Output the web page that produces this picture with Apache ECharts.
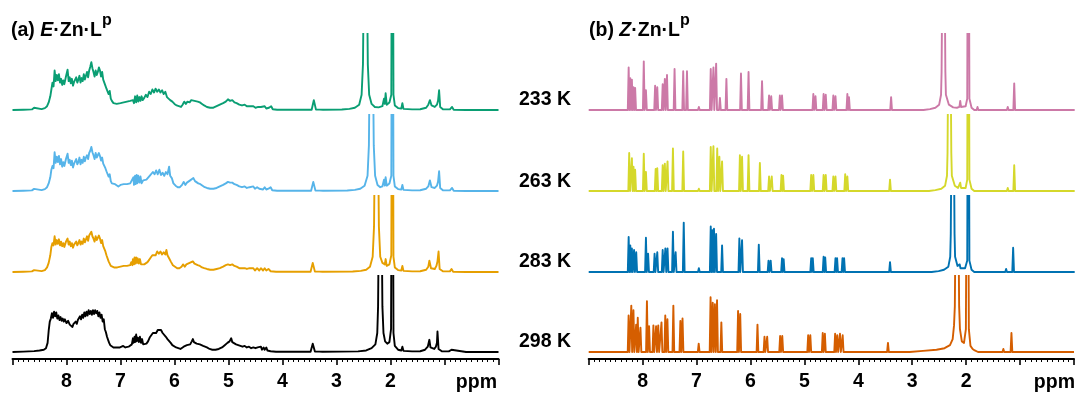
<!DOCTYPE html>
<html>
<head>
<meta charset="utf-8">
<title>VT 1H NMR of E- and Z-Zn·Lp</title>
<script src="https://cdn.jsdelivr.net/npm/echarts@6/dist/echarts.min.js"></script>
<style>
  html, body { margin: 0; padding: 0; background: #ffffff; }
  #chart { width: 1077px; height: 394px; }
</style>
</head>
<body>
<div id="chart"></div>
<script>
// ---------------------------------------------------------------------------
// Spectral data (chemical shift in ppm, relative intensity; 1 = clip height)
// ---------------------------------------------------------------------------
const temperatures = ['233 K', '263 K', '283 K', '298 K'];
const tickLabels = ['8', '7', '6', '5', '4', '3', '2'];

// (a) E·Zn·Lp, traced spectra [ppm, intensity]
const eSpec233 = [
  [9.00,0],[8.80,0.004],[8.64,0.008],[8.60,0.030],[8.57,0.008],[8.46,0.012],[8.40,0.025],[8.36,0.05],[8.33,0.10],[8.30,0.18],[8.28,0.27],[8.26,0.36],[8.24,0.31],[8.22,0.52],[8.20,0.38],[8.18,0.46],[8.16,0.39],[8.14,0.47],[8.12,0.36],[8.10,0.41],[8.08,0.33],[8.06,0.39],[8.04,0.34],[8.01,0.44],[7.98,0.53],[7.96,0.38],[7.94,0.43],[7.92,0.35],[7.90,0.41],[7.88,0.32],[7.86,0.37],[7.84,0.35],[7.82,0.43],[7.80,0.36],[7.78,0.40],[7.76,0.45],[7.74,0.36],[7.72,0.42],[7.70,0.38],[7.68,0.47],[7.66,0.40],[7.64,0.45],[7.62,0.50],[7.60,0.43],[7.58,0.52],[7.56,0.57],[7.54,0.63],[7.52,0.55],[7.50,0.50],[7.48,0.44],[7.46,0.52],[7.44,0.46],[7.42,0.50],[7.40,0.56],[7.38,0.52],[7.36,0.44],[7.34,0.50],[7.32,0.40],[7.30,0.42],[7.28,0.32],[7.26,0.28],[7.24,0.30],[7.22,0.21],[7.20,0.25],[7.18,0.15],[7.16,0.12],[7.13,0.09],[7.10,0.11],[7.07,0.08],[7.04,0.07],[7.00,0.09],[6.97,0.07],[6.94,0.10],[6.91,0.08],[6.88,0.11],[6.85,0.09],[6.82,0.12],[6.80,0.10],[6.77,0.13],[6.75,0.09],[6.73,0.18],[6.71,0.10],[6.69,0.19],[6.67,0.11],[6.65,0.17],[6.63,0.12],[6.61,0.18],[6.59,0.13],[6.56,0.16],[6.53,0.20],[6.50,0.17],[6.47,0.24],[6.44,0.21],[6.41,0.27],[6.38,0.23],[6.35,0.28],[6.32,0.24],[6.29,0.27],[6.26,0.23],[6.23,0.26],[6.20,0.21],[6.17,0.24],[6.14,0.17],[6.11,0.19],[6.08,0.13],[6.04,0.11],[6.00,0.08],[5.96,0.06],[5.92,0.05],[5.88,0.04],[5.85,0.07],[5.82,0.11],[5.79,0.08],[5.76,0.11],[5.72,0.10],[5.69,0.13],[5.66,0.15],[5.63,0.12],[5.60,0.14],[5.57,0.11],[5.53,0.10],[5.49,0.08],[5.45,0.06],[5.40,0.04],[5.34,0.03],[5.28,0.03],[5.22,0.05],[5.16,0.07],[5.10,0.09],[5.05,0.11],[5.01,0.14],[4.97,0.12],[4.93,0.13],[4.89,0.10],[4.85,0.09],[4.80,0.07],[4.75,0.06],[4.70,0.07],[4.66,0.05],[4.61,0.05],[4.58,0.03],[4.54,0.05],[4.50,0.03],[4.45,0.04],[4.40,0.04],[4.37,0.02],[4.33,0.05],[4.30,0.02],[4.25,0.03],[4.21,0.05],[4.18,0.01],[4.10,0.003],
  [3.46,0.003],[3.42,0.13],[3.38,0.005],[3.31,0.005],[3.28,0.025],[3.25,0.003],
  [2.90,0.006],[2.76,0.015],[2.66,0.03],[2.58,0.07],[2.535,0.2],[2.51,0.6],[2.465,4],[2.42,0.6],[2.395,0.2],[2.35,0.08],[2.29,0.04],[2.22,0.035],[2.15,0.05],[2.12,0.15],[2.105,0.08],[2.09,0.22],[2.07,0.07],[2.02,0.1],[1.985,0.2],[1.965,5],[1.945,0.2],[1.92,0.06],[1.86,0.025],[1.80,0.02],[1.78,0.09],[1.76,0.015],[1.60,0.008],[1.45,0.01],[1.34,0.03],[1.30,0.07],[1.27,0.13],[1.24,0.06],[1.18,0.04],[1.14,0.07],[1.12,0.12],[1.10,0.26],[1.08,0.04],[1.03,0.01],[0.90,0.008],[0.86,0.04],[0.83,0.004],[0.60,0],[0,0]
];

const eSpec263 = [
  [9.00,0],[8.80,0.004],[8.64,0.008],[8.60,0.028],[8.57,0.008],[8.46,0.012],[8.40,0.025],[8.36,0.05],[8.33,0.10],[8.30,0.18],[8.28,0.28],[8.26,0.33],[8.24,0.30],[8.22,0.51],[8.20,0.37],[8.18,0.45],[8.16,0.38],[8.14,0.46],[8.12,0.35],[8.10,0.42],[8.08,0.32],[8.06,0.38],[8.04,0.33],[8.01,0.42],[7.98,0.49],[7.96,0.37],[7.94,0.41],[7.92,0.34],[7.90,0.40],[7.88,0.31],[7.86,0.36],[7.84,0.34],[7.82,0.42],[7.80,0.35],[7.78,0.38],[7.76,0.44],[7.74,0.35],[7.72,0.41],[7.70,0.37],[7.68,0.45],[7.66,0.39],[7.64,0.44],[7.62,0.47],[7.60,0.42],[7.58,0.50],[7.56,0.53],[7.54,0.58],[7.52,0.51],[7.50,0.47],[7.48,0.42],[7.46,0.50],[7.44,0.44],[7.42,0.47],[7.40,0.50],[7.38,0.46],[7.36,0.40],[7.34,0.44],[7.32,0.36],[7.30,0.38],[7.28,0.30],[7.26,0.26],[7.24,0.27],[7.22,0.19],[7.20,0.22],[7.18,0.13],[7.16,0.10],[7.13,0.08],[7.10,0.09],[7.07,0.07],[7.04,0.06],[7.00,0.08],[6.97,0.06],[6.94,0.09],[6.91,0.07],[6.88,0.09],[6.85,0.07],[6.82,0.10],[6.79,0.08],[6.76,0.18],[6.75,0.08],[6.73,0.20],[6.72,0.09],[6.70,0.21],[6.69,0.10],[6.67,0.20],[6.65,0.11],[6.63,0.19],[6.61,0.10],[6.58,0.14],[6.55,0.12],[6.52,0.15],[6.49,0.14],[6.46,0.20],[6.43,0.18],[6.40,0.25],[6.37,0.22],[6.34,0.27],[6.31,0.22],[6.28,0.28],[6.25,0.21],[6.22,0.24],[6.19,0.20],[6.16,0.25],[6.13,0.22],[6.10,0.32],[6.08,0.20],[6.05,0.17],[6.02,0.10],[5.98,0.07],[5.94,0.05],[5.90,0.05],[5.86,0.08],[5.83,0.12],[5.80,0.08],[5.77,0.11],[5.74,0.09],[5.71,0.14],[5.68,0.12],[5.65,0.17],[5.62,0.13],[5.59,0.14],[5.56,0.10],[5.52,0.09],[5.48,0.07],[5.44,0.05],[5.40,0.04],[5.34,0.03],[5.28,0.03],[5.22,0.04],[5.16,0.06],[5.10,0.08],[5.05,0.10],[5.01,0.12],[4.97,0.11],[4.93,0.11],[4.89,0.09],[4.85,0.08],[4.80,0.06],[4.75,0.05],[4.70,0.06],[4.66,0.04],[4.61,0.05],[4.58,0.03],[4.54,0.06],[4.51,0.03],[4.47,0.05],[4.43,0.03],[4.40,0.05],[4.36,0.02],[4.33,0.05],[4.30,0.02],[4.26,0.03],[4.22,0.05],[4.19,0.01],[4.10,0.003],
  [3.47,0.003],[3.43,0.12],[3.39,0.005],[3.31,0.005],[3.28,0.02],[3.25,0.003],
  [2.80,0.006],[2.66,0.015],[2.56,0.03],[2.48,0.07],[2.425,0.2],[2.40,0.6],[2.355,4],[2.31,0.6],[2.285,0.2],[2.24,0.08],[2.19,0.05],[2.15,0.06],[2.12,0.15],[2.105,0.07],[2.09,0.18],[2.07,0.07],[2.02,0.1],[1.985,0.2],[1.965,5],[1.945,0.2],[1.92,0.06],[1.86,0.025],[1.80,0.02],[1.78,0.08],[1.76,0.015],[1.60,0.008],[1.45,0.01],[1.34,0.03],[1.30,0.06],[1.27,0.14],[1.24,0.05],[1.18,0.04],[1.14,0.07],[1.12,0.12],[1.10,0.26],[1.08,0.04],[1.03,0.01],[0.90,0.008],[0.86,0.04],[0.83,0.004],[0.60,0],[0,0]
];

const eSpec283 = [
  [9.00,0],[8.80,0.004],[8.64,0.008],[8.60,0.025],[8.57,0.008],[8.46,0.012],[8.40,0.025],[8.36,0.06],[8.33,0.12],[8.30,0.22],[8.28,0.33],[8.26,0.38],[8.24,0.35],[8.22,0.47],[8.20,0.36],[8.18,0.42],[8.16,0.37],[8.14,0.43],[8.12,0.35],[8.10,0.40],[8.08,0.34],[8.06,0.38],[8.04,0.33],[8.01,0.40],[7.98,0.44],[7.96,0.36],[7.94,0.40],[7.92,0.34],[7.90,0.38],[7.88,0.32],[7.86,0.36],[7.84,0.34],[7.82,0.40],[7.80,0.35],[7.78,0.38],[7.76,0.42],[7.74,0.36],[7.72,0.40],[7.70,0.37],[7.68,0.44],[7.66,0.39],[7.64,0.43],[7.62,0.47],[7.60,0.41],[7.58,0.48],[7.56,0.50],[7.54,0.53],[7.52,0.47],[7.50,0.44],[7.48,0.40],[7.46,0.47],[7.44,0.42],[7.42,0.45],[7.40,0.48],[7.38,0.44],[7.36,0.38],[7.34,0.42],[7.32,0.34],[7.30,0.36],[7.28,0.27],[7.26,0.22],[7.24,0.20],[7.22,0.14],[7.20,0.11],[7.18,0.08],[7.15,0.07],[7.12,0.06],[7.09,0.08],[7.06,0.06],[7.03,0.05],[7.00,0.07],[6.97,0.05],[6.94,0.08],[6.91,0.06],[6.88,0.08],[6.85,0.06],[6.82,0.09],[6.80,0.13],[6.78,0.09],[6.77,0.17],[6.75,0.10],[6.74,0.19],[6.72,0.11],[6.71,0.19],[6.69,0.12],[6.68,0.18],[6.66,0.11],[6.64,0.17],[6.62,0.10],[6.59,0.12],[6.56,0.10],[6.53,0.12],[6.50,0.13],[6.47,0.16],[6.44,0.19],[6.41,0.22],[6.38,0.24],[6.35,0.22],[6.32,0.27],[6.29,0.24],[6.26,0.27],[6.23,0.23],[6.20,0.26],[6.17,0.23],[6.15,0.29],[6.13,0.22],[6.10,0.18],[6.07,0.14],[6.03,0.09],[5.99,0.07],[5.95,0.05],[5.91,0.05],[5.87,0.07],[5.84,0.10],[5.81,0.07],[5.78,0.10],[5.75,0.08],[5.72,0.12],[5.69,0.10],[5.66,0.14],[5.63,0.11],[5.60,0.13],[5.57,0.09],[5.53,0.08],[5.49,0.06],[5.45,0.05],[5.40,0.04],[5.34,0.03],[5.28,0.03],[5.22,0.04],[5.16,0.05],[5.10,0.07],[5.05,0.09],[5.01,0.10],[4.97,0.09],[4.93,0.10],[4.89,0.08],[4.85,0.07],[4.80,0.05],[4.75,0.05],[4.70,0.05],[4.66,0.04],[4.61,0.05],[4.58,0.03],[4.54,0.05],[4.51,0.02],[4.47,0.05],[4.43,0.02],[4.40,0.05],[4.36,0.02],[4.33,0.05],[4.30,0.02],[4.26,0.04],[4.22,0.01],[4.12,0.003],
  [3.48,0.003],[3.44,0.12],[3.40,0.005],[3.32,0.005],[3.29,0.02],[3.26,0.003],
  [2.70,0.006],[2.55,0.015],[2.45,0.03],[2.38,0.07],[2.33,0.2],[2.305,0.6],[2.26,4],[2.215,0.6],[2.19,0.2],[2.15,0.12],[2.12,0.14],[2.105,0.1],[2.09,0.17],[2.07,0.08],[2.02,0.1],[1.985,0.22],[1.965,5],[1.945,0.2],[1.92,0.06],[1.86,0.025],[1.80,0.02],[1.78,0.08],[1.76,0.015],[1.60,0.008],[1.45,0.01],[1.34,0.03],[1.30,0.07],[1.28,0.15],[1.25,0.05],[1.18,0.04],[1.15,0.08],[1.13,0.14],[1.11,0.27],[1.09,0.04],[1.03,0.01],[0.90,0.008],[0.87,0.04],[0.84,0.004],[0.60,0],[0,0]
];

const eSpec298 = [
  [9.00,0],[8.80,0.005],[8.60,0.012],[8.50,0.02],[8.42,0.03],[8.38,0.05],[8.35,0.12],[8.33,0.28],[8.31,0.40],[8.29,0.44],[8.27,0.51],[8.25,0.45],[8.23,0.53],[8.21,0.47],[8.19,0.52],[8.17,0.44],[8.15,0.48],[8.13,0.42],[8.11,0.46],[8.09,0.41],[8.07,0.44],[8.05,0.40],[8.03,0.43],[8.00,0.38],[7.97,0.41],[7.94,0.36],[7.91,0.37],[7.89,0.33],[7.87,0.37],[7.85,0.35],[7.83,0.40],[7.81,0.37],[7.79,0.42],[7.77,0.40],[7.75,0.47],[7.73,0.43],[7.71,0.49],[7.69,0.45],[7.67,0.52],[7.65,0.47],[7.63,0.53],[7.61,0.48],[7.59,0.55],[7.57,0.50],[7.55,0.54],[7.53,0.49],[7.51,0.55],[7.49,0.50],[7.47,0.55],[7.45,0.51],[7.43,0.54],[7.41,0.47],[7.39,0.52],[7.37,0.45],[7.35,0.49],[7.33,0.40],[7.31,0.43],[7.29,0.30],[7.27,0.26],[7.25,0.20],[7.23,0.16],[7.21,0.12],[7.19,0.09],[7.16,0.07],[7.13,0.06],[7.10,0.08],[7.07,0.06],[7.04,0.05],[7.01,0.06],[6.98,0.05],[6.95,0.08],[6.93,0.10],[6.91,0.06],[6.88,0.05],[6.85,0.07],[6.82,0.08],[6.79,0.10],[6.77,0.18],[6.76,0.12],[6.74,0.20],[6.73,0.13],[6.71,0.23],[6.70,0.14],[6.68,0.19],[6.66,0.13],[6.64,0.20],[6.62,0.12],[6.60,0.17],[6.58,0.10],[6.55,0.09],[6.52,0.11],[6.49,0.14],[6.46,0.19],[6.43,0.22],[6.40,0.25],[6.37,0.27],[6.34,0.25],[6.31,0.29],[6.28,0.27],[6.25,0.29],[6.22,0.25],[6.19,0.23],[6.16,0.20],[6.13,0.17],[6.10,0.15],[6.07,0.12],[6.04,0.09],[6.01,0.07],[5.97,0.06],[5.93,0.05],[5.89,0.04],[5.86,0.05],[5.83,0.07],[5.80,0.06],[5.77,0.09],[5.74,0.07],[5.71,0.10],[5.68,0.14],[5.66,0.17],[5.64,0.13],[5.62,0.15],[5.59,0.11],[5.56,0.13],[5.53,0.10],[5.50,0.11],[5.47,0.08],[5.44,0.09],[5.40,0.06],[5.35,0.04],[5.30,0.03],[5.24,0.03],[5.18,0.04],[5.12,0.06],[5.07,0.09],[5.02,0.12],[4.98,0.14],[4.95,0.18],[4.93,0.13],[4.90,0.12],[4.86,0.10],[4.82,0.09],[4.78,0.08],[4.74,0.07],[4.70,0.08],[4.66,0.06],[4.62,0.07],[4.58,0.05],[4.54,0.06],[4.50,0.05],[4.46,0.06],[4.43,0.04],[4.40,0.07],[4.38,0.03],[4.35,0.06],[4.33,0.03],[4.30,0.06],[4.28,0.02],[4.25,0.04],[4.22,0.01],[4.12,0.003],
  [3.48,0.004],[3.44,0.11],[3.40,0.005],[3.32,0.005],[3.29,0.015],[3.26,0.003],
  [2.60,0.008],[2.45,0.02],[2.35,0.05],[2.28,0.10],[2.245,0.25],[2.23,0.6],[2.19,4],[2.15,0.6],[2.13,0.25],[2.10,0.14],[2.06,0.11],[2.02,0.13],[1.99,0.3],[1.965,5],[1.945,0.25],[1.92,0.08],[1.86,0.03],[1.80,0.02],[1.78,0.07],[1.76,0.015],[1.60,0.008],[1.45,0.01],[1.36,0.03],[1.31,0.07],[1.28,0.16],[1.26,0.06],[1.19,0.04],[1.16,0.07],[1.14,0.12],[1.13,0.27],[1.11,0.04],[1.05,0.01],[0.92,0.008],[0.87,0.03],[0.84,0.004],[0.60,0],[0,0]
];

// (b) Z·Zn·Lp, resolved lines [ppm, height]
const zPeaks233 = [[8.26,0.56],[8.23,0.42],[8.20,0.40],[8.17,0.30],[8.14,0.29],[7.98,0.64],[7.94,0.26],[7.77,0.32],[7.73,0.30],[7.63,0.34],[7.59,0.41],[7.55,0.46],[7.41,0.54],[7.25,0.51],[7.18,0.51],[6.96,0.04],[6.74,0.54],[6.69,0.56],[6.64,0.61],[6.57,0.16],[6.45,0.41],[6.18,0.48],[6.04,0.50],[5.79,0.38],[5.66,0.19],[5.62,0.18],[5.46,0.19],[5.42,0.19],[4.84,0.21],[4.80,0.18],[4.65,0.21],[4.61,0.20],[4.47,0.19],[4.43,0.18],[4.21,0.21],[4.18,0.17],[3.40,0.17],[1.80,0.04],[1.24,0.04],[1.12,0.35],[0.86,0.02]];
const zPeaks263 = [[8.25,0.50],[8.20,0.43],[8.17,0.32],[8.14,0.28],[7.98,0.49],[7.94,0.25],[7.76,0.29],[7.73,0.30],[7.63,0.34],[7.59,0.36],[7.54,0.39],[7.44,0.56],[7.25,0.52],[6.96,0.03],[6.74,0.58],[6.69,0.59],[6.62,0.56],[6.58,0.45],[6.53,0.39],[6.20,0.47],[6.16,0.45],[6.04,0.47],[5.83,0.37],[5.66,0.19],[5.61,0.19],[5.43,0.21],[5.40,0.20],[4.88,0.21],[4.84,0.21],[4.65,0.21],[4.61,0.21],[4.47,0.19],[4.43,0.19],[4.25,0.22],[4.21,0.19],[3.42,0.15],[1.80,0.02],[1.24,0.04],[1.12,0.34],[0.88,0.01]];
const zPeaks283 = [[8.26,0.46],[8.23,0.35],[8.20,0.31],[8.16,0.29],[8.12,0.26],[7.94,0.45],[7.90,0.24],[7.78,0.24],[7.73,0.26],[7.63,0.29],[7.58,0.31],[7.54,0.31],[7.44,0.53],[7.39,0.26],[7.24,0.65],[6.96,0.05],[6.74,0.60],[6.71,0.55],[6.68,0.57],[6.64,0.50],[6.53,0.35],[6.21,0.44],[6.16,0.42],[5.85,0.36],[5.67,0.15],[5.63,0.15],[5.42,0.18],[5.39,0.17],[4.88,0.18],[4.85,0.18],[4.65,0.20],[4.62,0.19],[4.43,0.18],[4.40,0.18],[4.30,0.18],[4.27,0.18],[3.42,0.13],[1.80,0.02],[1.27,0.04],[1.14,0.32],[0.88,0.01]];
const zPeaks298 = [[8.26,0.48],[8.21,0.61],[8.17,0.55],[8.12,0.36],[8.09,0.45],[8.04,0.32],[7.92,0.67],[7.88,0.34],[7.80,0.35],[7.75,0.34],[7.71,0.35],[7.65,0.39],[7.58,0.48],[7.54,0.43],[7.43,0.61],[7.30,0.41],[7.26,0.44],[6.96,0.11],[6.74,0.72],[6.70,0.65],[6.66,0.63],[6.62,0.68],[6.54,0.39],[6.23,0.54],[6.19,0.50],[5.87,0.36],[5.74,0.20],[5.69,0.20],[5.45,0.21],[5.41,0.21],[4.93,0.22],[4.89,0.22],[4.66,0.25],[4.62,0.24],[4.43,0.24],[4.39,0.22],[4.34,0.24],[4.29,0.22],[4.00,0.02],[3.45,0.12],[1.31,0.04],[1.16,0.25],[0.90,0.02]];

// (b) methyl / solvent region traced as a band [ppm, intensity]
const zBand233 = [[2.80,0],[2.68,0.012],[2.58,0.03],[2.51,0.07],[2.475,0.2],[2.465,0.5],[2.43,4],[2.395,0.5],[2.385,0.2],[2.33,0.07],[2.25,0.035],[2.18,0.03],[2.135,0.04],[2.12,0.12],[2.105,0.04],[2.02,0.05],[1.99,0.15],[1.97,5],[1.95,0.15],[1.91,0.03],[1.86,0]];
const zBand263 = [[2.70,0],[2.58,0.012],[2.47,0.03],[2.40,0.07],[2.365,0.2],[2.355,0.5],[2.32,4],[2.285,0.5],[2.275,0.2],[2.22,0.07],[2.16,0.04],[2.135,0.05],[2.12,0.11],[2.105,0.04],[2.02,0.04],[1.99,0.15],[1.97,5],[1.95,0.15],[1.91,0.03],[1.86,0]];
const zBand283 = [[2.65,0],[2.52,0.012],[2.42,0.03],[2.34,0.07],[2.305,0.2],[2.295,0.5],[2.26,4],[2.225,0.5],[2.215,0.2],[2.17,0.08],[2.145,0.06],[2.13,0.10],[2.115,0.05],[2.03,0.05],[1.99,0.15],[1.97,5],[1.95,0.15],[1.91,0.03],[1.86,0]];
const zBand298 = [[3.05,0],[2.80,0.015],[2.55,0.03],[2.40,0.05],[2.30,0.09],[2.25,0.17],[2.225,0.35],[2.21,0.6],[2.17,4],[2.13,0.6],[2.115,0.3],[2.08,0.14],[2.04,0.12],[2.005,0.3],[1.975,5],[1.95,0.3],[1.92,0.08],[1.88,0.04],[1.84,0.02],[1.78,0]];

// ---------------------------------------------------------------------------
// Layout and styling
// ---------------------------------------------------------------------------
const FONT = '"Liberation Sans", Arial, Helvetica, sans-serif';
const FS = 19.5;                          // text size of labels and titles
const BASELINES = [110, 191, 272, 352];  // pixel row of each trace's zero line
const CLIP = 76;                          // pixel height of intensity 1
const BELOW = 7;                          // gap between bottom trace and axis line
const PANEL_X = [12.5, 588.7];
const PANEL_W = 486;
const HW = 0.016;                          // half-width of a resolved line (ppm)

const eColors = ['#0a9e73', '#56b4e9', '#e69f00', '#000000'];
const zColors = ['#cc79a7', '#d5d82b', '#0072b2', '#d55e00'];
const eData = [eSpec233, eSpec263, eSpec283, eSpec298];
const zPeaks = [zPeaks233, zPeaks263, zPeaks283, zPeaks298];
const zBands = [zBand233, zBand263, zBand283, zBand298];

// Resolved lines are drawn as narrow sticks on a zero baseline, merged with
// the traced band of the methyl / solvent region.
function stickTrace(peaks, band) {
  const pts = [[9, 0], [0, 0]];
  peaks.forEach(([p, h]) => { pts.push([p + HW, 0], [p, h], [p - HW, 0]); });
  band.forEach(pt => pts.push(pt));
  pts.sort((a, b) => b[0] - a[0]);
  return pts;
}

const grids = [], xAxes = [], yAxes = [], series = [];
for (let panel = 0; panel < 2; panel++) {
  for (let k = 0; k < 4; k++) {
    const idx = grids.length;
    const isBottom = k === 3;
    grids.push({
      left: PANEL_X[panel], width: PANEL_W,
      top: BASELINES[k] - CLIP, height: CLIP + BELOW,
      containLabel: false
    });
    xAxes.push({
      gridIndex: idx, type: 'value', min: 0, max: 9, interval: 1, inverse: true,
      show: isBottom,
      splitLine: { show: false },
      axisLine: { show: true, onZero: false, lineStyle: { color: '#000', width: 2 } },
      axisTick: { show: true, inside: false, length: 6, lineStyle: { color: '#000', width: 1.6 } },
      minorTick: { show: true, splitNumber: 10, length: 3, lineStyle: { color: '#000', width: 1 } },
      axisLabel: {
        show: true, margin: 13, color: '#000', fontFamily: FONT, fontWeight: 'bold', fontSize: FS,
        formatter: v => (tickLabels.indexOf(String(v)) >= 0 ? String(v) : '')
      }
    });
    yAxes.push({ gridIndex: idx, type: 'value', min: -BELOW / CLIP, max: 1, show: false });
    series.push({
      type: 'line', xAxisIndex: idx, yAxisIndex: idx,
      data: panel === 0 ? eData[k] : stickTrace(zPeaks[k], zBands[k]),
      showSymbol: false, symbol: 'none', silent: true, clip: true,
      lineStyle: { color: panel === 0 ? eColors[k] : zColors[k], width: 1.9, join: 'round' }
    });
  }
}

const titleRich = {
  n: { fontFamily: FONT, fontWeight: 'bold', fontSize: FS, lineHeight: 28, verticalAlign: 'bottom', fill: '#000' },
  i: { fontFamily: FONT, fontWeight: 'bold', fontStyle: 'italic', fontSize: FS, lineHeight: 28, verticalAlign: 'bottom', fill: '#000' },
  s: { fontFamily: FONT, fontWeight: 'bold', fontSize: 16, lineHeight: 12, verticalAlign: 'top', fill: '#000' }
};

const graphics = [
  { type: 'text', x: 11, y: 13, silent: true,
    style: { text: '{n|(a) }{i|E}{n|·Zn·L}{s|p}', rich: titleRich } },
  { type: 'text', x: 589, y: 13, silent: true,
    style: { text: '{n|(b) }{i|Z}{n|·Zn·L}{s|p}', rich: titleRich } },
  { type: 'text', x: 497, y: 383, silent: true,
    style: { text: 'ppm', fill: '#000', font: 'bold ' + FS + 'px ' + FONT, align: 'right', verticalAlign: 'middle' } },
  { type: 'text', x: 1075, y: 383, silent: true,
    style: { text: 'ppm', fill: '#000', font: 'bold ' + FS + 'px ' + FONT, align: 'right', verticalAlign: 'middle' } }
];
const labelRows = [100, 182, 262, 342];
temperatures.forEach((t, k) => {
  graphics.push({ type: 'text', x: 545, y: labelRows[k], silent: true,
    style: { text: t, fill: '#000', font: 'bold ' + FS + 'px ' + FONT, align: 'center', verticalAlign: 'middle' } });
});

const chart = echarts.init(document.getElementById('chart'), null, { renderer: 'canvas' });
chart.setOption({
  animation: false,
  backgroundColor: '#ffffff',
  grid: grids,
  xAxis: xAxes,
  yAxis: yAxes,
  series: series,
  graphic: graphics
});
</script>
</body>
</html>
